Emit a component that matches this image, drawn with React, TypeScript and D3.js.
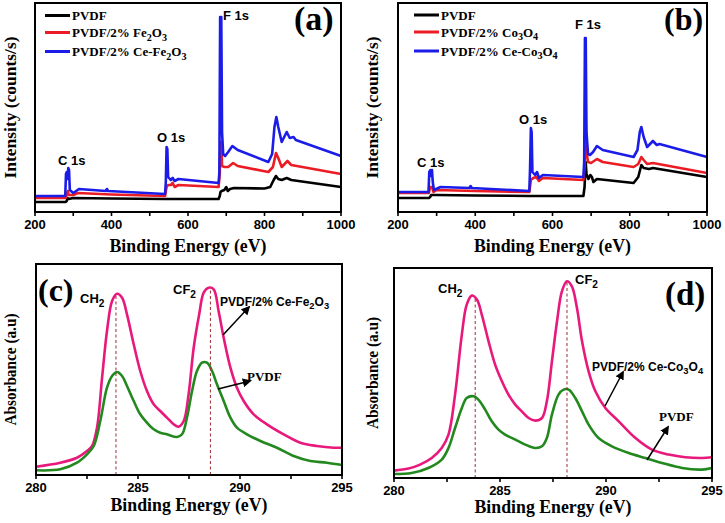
import React from "react";
import * as d3 from "d3";

type Pt = [number, number];

// ---------- tick values ----------
const surveyTicks = [200, 400, 600, 800, 1000];
const surveyMinorTicks = [300, 500, 700, 900];
const c1sTicks = [280, 285, 290, 295];
const c1sMinorTicks = [282.5, 287.5, 292.5];

// ---------- (a) XPS survey, Fe2O3 ----------
const aPVDF: Pt[] = [[200,10],[280,10],[283,11],[285,14],[288,13],[300,14],[400,13.5],[540,13],[680,13],[683,16],[685,20],[688,21],[695,22],[700,25],[704,21],[710,23],[720,24],[800,23.5],[815,25],[824,32],[830,36],[836,33],[845,32],[858,34],[870,32],[1000,25]];
const aFe2O3: Pt[] = [[200,14],[280,14],[283,18],[286,21],[288,17],[300,17],[312,19],[400,17.5],[540,16],[544,25],[548,27],[555,27],[560,29],[565,25],[575,27],[680,25],[683,38],[685,70],[687,70],[689,46],[695,45],[705,45],[718,49],[730,46],[810,40],[822,45],[830,59],[836,54],[845,45],[860,51],[870,47],[1000,38]];
const aCeFe2O3: Pt[] = [[200,16],[279,16],[281,38],[283,40],[285,33],[287,44],[289,42],[291,22],[300,19],[315,23],[385,21],[388,23],[391,21],[540,18],[542,30],[544,65],[546,63],[548,35],[555,32],[560,34],[565,31],[575,33],[680,29],[682,40],[684,195],[687,195],[689,80],[692,58],[697,56],[705,60],[716,66],[730,62],[810,50],[820,58],[826,85],[831,95],[836,85],[845,70],[858,80],[866,74],[876,75],[882,72],[1000,56]];

// ---------- (b) XPS survey, Co3O4 ----------
const bPVDF: Pt[] = [[200,14],[280,14],[283,15],[286,17],[300,17],[400,16.5],[540,16],[680,16],[683,25],[686,50],[688,38],[693,33],[698,37],[702,35],[706,30],[715,33],[810,29],[822,35],[830,47],[836,44],[850,43],[860,44],[1000,35]];
const bCo3O4: Pt[] = [[200,19],[280,19],[283,25],[288,25],[292,20],[300,22],[400,21],[540,20],[544,32],[550,34],[558,35],[565,31],[575,34],[680,32],[683,45],[686,90],[688,60],[692,50],[700,49],[715,53],[730,50],[810,45],[822,48],[830,55],[836,52],[845,48],[860,49],[1000,39]];
const bCeCo3O4: Pt[] = [[200,20],[279,20],[281,40],[284,42],[286,36],[288,42],[290,30],[293,22],[310,25],[385,24],[388,26],[391,24],[540,21],[542,45],[544,84],[546,80],[548,40],[555,37],[560,40],[565,34],[575,37],[680,35],[682,50],[684,174],[686,174],[688,80],[692,58],[697,57],[705,60],[715,66],[730,62],[810,55],[820,62],[826,80],[830,85],[836,75],[845,65],[860,71],[870,67],[877,68],[1000,55]];

// ---------- (c) C1s, Ce-Fe2O3 ----------
const cCeFe2O3: Pt[] = [[280,8.3],[281.19,12.3],[282.01,17.3],[282.5,24],[282.75,29],[282.99,47.3],[283.24,97.3],[283.48,144],[283.73,174],[283.97,181.3],[284.22,177.3],[284.46,160.7],[284.79,130.7],[285.11,104],[285.44,84],[285.77,70.7],[286.09,64],[286.42,57.3],[286.75,50.7],[286.99,48.3],[287.24,54],[287.48,80.7],[287.73,127.3],[288.0,160.7],[288.22,182.3],[288.46,187.3],[288.71,185.7],[288.95,164],[289.2,137.3],[289.53,107.3],[289.85,87.3],[290.18,74],[290.67,60.7],[291.32,50.7],[292.14,40.7],[292.96,32.3],[293.77,29],[294.59,27.3],[295,27.3]];
const cPVDF: Pt[] = [[280,4.7],[281.19,5.7],[282.01,12.3],[282.5,20.7],[282.83,29],[283.15,54],[283.48,87.3],[283.73,99],[283.97,103],[284.22,99],[284.46,89],[284.79,74],[285.11,60.7],[285.44,52.3],[285.77,45.7],[286.09,42.3],[286.42,40.7],[286.91,38],[287.16,40.7],[287.4,57.3],[287.65,84],[287.89,104],[288.14,112.3],[288.38,112.3],[288.63,104],[288.87,90.7],[289.2,74],[289.53,57.3],[289.85,47.3],[290.34,40.7],[291.0,34],[291.81,27.3],[292.63,19],[293.45,14],[294.26,12.3],[295,10]];
const cPeaks = [283.92, 288.55];

// ---------- (d) C1s, Ce-Co3O4 ----------
const dCeCo3O4: Pt[] = [[280,7.4],[280.68,9.4],[281.23,13.4],[281.78,20],[282.25,30],[282.57,43.4],[282.88,83.4],[283.2,143.4],[283.43,173.4],[283.67,182.4],[283.91,178.4],[284.14,163.4],[284.46,136.7],[284.77,113.4],[285.09,96.7],[285.4,83.4],[285.72,73.4],[286.03,66.7],[286.35,60],[286.66,57.4],[286.98,60],[287.21,76.7],[287.45,116.7],[287.69,156.7],[287.92,186.7],[288.16,196.7],[288.39,191.7],[288.63,170],[288.87,136.7],[289.18,106.7],[289.5,86.7],[289.97,70],[290.6,56.7],[291.39,40],[292.17,28.4],[292.96,23.4],[293.75,20.7],[294.53,20],[295,20.7]];
const dPVDF: Pt[] = [[280,4],[280.83,5],[281.62,10],[282.25,18.4],[282.57,30],[282.88,50],[283.2,70],[283.43,80],[283.75,81.7],[283.98,78.4],[284.3,68.4],[284.61,56.7],[284.93,48.4],[285.24,43.4],[285.72,38.4],[286.19,33.4],[286.66,30],[286.98,31.7],[287.21,40],[287.45,63.4],[287.76,83.4],[288.0,88.4],[288.24,88.4],[288.55,80],[288.87,66.7],[289.18,53.4],[289.65,40],[290.28,31.7],[291.07,25],[291.86,20],[292.65,15],[293.59,10],[294.53,8.4],[295,10]];
const dPeaks = [283.83, 288.16];

const surveyLegendA = ["PVDF", "PVDF/2% Fe_2O_3", "PVDF/2% Ce-Fe_2O_3"];
const surveyLegendB = ["PVDF", "PVDF/2% Co_3O_4", "PVDF/2% Ce-Co_3O_4"];

const SERIF = "'Liberation Serif', 'DejaVu Serif', serif";
const SANS = "'Liberation Sans', Arial, sans-serif";
const BLACK = "#000000";
const RED = "#ec1c24";
const BLUE = "#1c1ce8";
const PINK = "#e8197c";
const GREEN = "#23891f";
const DASH = "#9a2b35";

function Rich({ text, size }: { text: string; size: number }) {
  const parts = text.split(/_(\d)/);
  const out: React.ReactNode[] = [];
  parts.forEach((p, i) => {
    if (i % 2 === 1) {
      out.push(<tspan key={i} dy={size * 0.28} fontSize={size * 0.78}>{p}</tspan>);
    } else {
      out.push(<tspan key={i} dy={i === 0 ? 0 : -size * 0.28}>{p}</tspan>);
    }
  });
  return <>{out}</>;
}

type SeriesDef = { data: Pt[]; color: string };

type PanelProps = {
  left: number; right: number; top: number; bottom: number;
  xDomain: [number, number]; yDomain: [number, number];
  majors: number[]; minors: number[];
  series: SeriesDef[];
  smooth: boolean;
  tickBaseline: number; titleBaseline: number;
  yTitle: string; yTitleX: number; yTitleLen: number;
  letter: string; letterX: number; letterY: number; letterSize: number;
  annotate: (x: d3.ScaleLinear<number, number>, y: d3.ScaleLinear<number, number>) => React.ReactNode;
};

function Panel(p: PanelProps) {
  const x = d3.scaleLinear().domain(p.xDomain).range([p.left, p.right]);
  const y = d3.scaleLinear().domain(p.yDomain).range([p.bottom, p.top]);
  const line = d3.line<Pt>().x(d => x(d[0])).y(d => y(d[1]))
    .curve(p.smooth ? d3.curveCatmullRom.alpha(0.5) : d3.curveLinear);
  const cx = (p.left + p.right) / 2;
  const cy = (p.top + p.bottom) / 2;
  return (
    <g>
      {p.series.map((s, i) => (
        <path key={i} d={line(s.data) || ""} fill="none" stroke={s.color} strokeWidth={2.6} strokeLinejoin="round" />
      ))}
      {p.annotate(x, y)}
      <rect x={p.left} y={p.top} width={p.right - p.left} height={p.bottom - p.top} fill="none" stroke="#000" strokeWidth={2} />
      {[...p.majors, ...p.minors].map((t, i) => (
        <line key={"t" + i} x1={x(t)} x2={x(t)} y1={p.bottom} y2={p.bottom + 4} stroke="#000" strokeWidth={1.6} />
      ))}
      {p.majors.map((t, i) => (
        <text key={"l" + i} x={x(t)} y={p.tickBaseline} textAnchor="middle" fontFamily={SANS} fontWeight="bold" fontSize={13}>{t}</text>
      ))}
      <text x={cx} y={p.titleBaseline} textAnchor="middle" fontFamily={SERIF} fontWeight="bold" fontSize={18} textLength={157} lengthAdjust="spacingAndGlyphs">Binding Energy (eV)</text>
      <text transform={`translate(${p.yTitleX},${cy}) rotate(-90)`} textAnchor="middle" fontFamily={SERIF} fontWeight="bold" fontSize={17.5} textLength={p.yTitleLen} lengthAdjust="spacingAndGlyphs">{p.yTitle}</text>
      <text x={p.letterX} y={p.letterY} fontFamily={SERIF} fontWeight="bold" fontSize={p.letterSize}>{p.letter}</text>
    </g>
  );
}

function SurveyLegend({ x0, y0, labels }: { x0: number; y0: number; labels: string[] }) {
  const colors = [BLACK, RED, BLUE];
  const gaps = [0, 17, 36];
  return (
    <g>
      {labels.map((l, i) => (
        <g key={i}>
          <line x1={x0} x2={x0 + 25} y1={y0 + gaps[i]} y2={y0 + gaps[i]} stroke={colors[i]} strokeWidth={3} />
          <text x={x0 + 27} y={y0 + gaps[i] + 4.5} fontFamily={SERIF} fontWeight="bold" fontSize={13}>
            <Rich text={l} size={13} />
          </text>
        </g>
      ))}
    </g>
  );
}

function Arrow({ x1, y1, x2, y2 }: { x1: number; y1: number; x2: number; y2: number }) {
  return <line x1={x1} y1={y1} x2={x2} y2={y2} stroke="#000" strokeWidth={1.5} markerEnd="url(#arrowHead)" />;
}

function PeakLabel({ x, y, text, size = 13 }: { x: number; y: number; text: string; size?: number }) {
  return (
    <text x={x} y={y} fontFamily={SANS} fontWeight="bold" fontSize={size}>
      <Rich text={text} size={size} />
    </text>
  );
}

export default function App() {
  return (
    <svg width={725} height={523} style={{ position: "absolute", left: 0, top: 0, background: "#fff" }}>
      <defs>
        <marker id="arrowHead" viewBox="0 0 10 10" refX="8" refY="5" markerWidth="6" markerHeight="6" orient="auto-start-reverse">
          <path d="M0,0 L10,5 L0,10 z" fill="#000" />
        </marker>
      </defs>
      <rect x={0} y={0} width={725} height={523} fill="#fff" />

      {/* (a) */}
      <Panel left={35} right={341} top={3} bottom={212} xDomain={[200, 1000]} yDomain={[0, 209]}
        majors={surveyTicks} minors={surveyMinorTicks}
        series={[{ data: aPVDF, color: BLACK }, { data: aFe2O3, color: RED }, { data: aCeFe2O3, color: BLUE }]}
        smooth={false} tickBaseline={229} titleBaseline={252}
        yTitle="Intensity (counts/s)" yTitleX={16} yTitleLen={142}
        letter="(a)" letterX={294} letterY={30} letterSize={34}
        annotate={() => (
          <g>
            <SurveyLegend x0={45} y0={15.5} labels={surveyLegendA} />
            <PeakLabel x={58} y={165} text="C 1s" />
            <PeakLabel x={157} y={142} text="O 1s" />
            <PeakLabel x={223} y={20} text="F 1s" />
          </g>
        )} />

      {/* (b) */}
      <Panel left={398} right={707} top={3} bottom={212} xDomain={[200, 1000]} yDomain={[0, 209]}
        majors={surveyTicks} minors={surveyMinorTicks}
        series={[{ data: bPVDF, color: BLACK }, { data: bCo3O4, color: RED }, { data: bCeCo3O4, color: BLUE }]}
        smooth={false} tickBaseline={229} titleBaseline={252}
        yTitle="Intensity (counts/s)" yTitleX={378} yTitleLen={142}
        letter="(b)" letterX={664} letterY={30} letterSize={32}
        annotate={() => (
          <g>
            <SurveyLegend x0={414} y0={15} labels={surveyLegendB} />
            <PeakLabel x={417} y={167} text="C 1s" />
            <PeakLabel x={519} y={124} text="O 1s" />
            <PeakLabel x={575} y={29} text="F 1s" />
          </g>
        )} />

      {/* (c) */}
      <Panel left={36} right={342} top={264} bottom={475} xDomain={[280, 295]} yDomain={[0, 211]}
        majors={c1sTicks} minors={c1sMinorTicks}
        series={[{ data: cCeFe2O3, color: PINK }, { data: cPVDF, color: GREEN }]}
        smooth={true} tickBaseline={492} titleBaseline={511}
        yTitle="Absorbance (a.u)" yTitleX={16} yTitleLen={112}
        letter="(c)" letterX={38} letterY={301} letterSize={32}
        annotate={(x, y) => (
          <g>
            {cPeaks.map((e, i) => (
              <line key={i} x1={x(e)} x2={x(e)} y1={y(0)} y2={y(i === 0 ? 181 : 187)} stroke={DASH} strokeWidth={1} strokeDasharray="3,2.5" />
            ))}
            <PeakLabel x={80} y={303} text="CH_2" />
            <PeakLabel x={173} y={294} text="CF_2" />
            <PeakLabel x={220} y={306} text="PVDF/2% Ce-Fe_2O_3" size={12} />
            <text x={247} y={381} fontFamily={SERIF} fontWeight="bold" fontSize={13}>PVDF</text>
            <Arrow x1={223} y1={335} x2={249} y2={307} />
            <Arrow x1={218} y1={389} x2={250} y2={381} />
          </g>
        )} />

      {/* (d) */}
      <Panel left={394} right={712} top={268} bottom={478} xDomain={[280, 295]} yDomain={[0, 210]}
        majors={c1sTicks} minors={c1sMinorTicks}
        series={[{ data: dCeCo3O4, color: PINK }, { data: dPVDF, color: GREEN }]}
        smooth={true} tickBaseline={495} titleBaseline={513}
        yTitle="Absorbance (a.u)" yTitleX={378} yTitleLen={112}
        letter="(d)" letterX={665} letterY={305} letterSize={33}
        annotate={(x, y) => (
          <g>
            {dPeaks.map((e, i) => (
              <line key={i} x1={x(e)} x2={x(e)} y1={y(0)} y2={y(i === 0 ? 180 : 196)} stroke={DASH} strokeWidth={1} strokeDasharray="3,2.5" />
            ))}
            <PeakLabel x={438} y={293} text="CH_2" />
            <PeakLabel x={575} y={284} text="CF_2" />
            <PeakLabel x={592} y={371} text="PVDF/2% Ce-Co_3O_4" size={12} />
            <text x={659} y={421} fontFamily={SERIF} fontWeight="bold" fontSize={13}>PVDF</text>
            <Arrow x1={605} y1={406} x2={623} y2={372} />
            <Arrow x1={647} y1={460} x2={668} y2={427} />
          </g>
        )} />
    </svg>
  );
}
